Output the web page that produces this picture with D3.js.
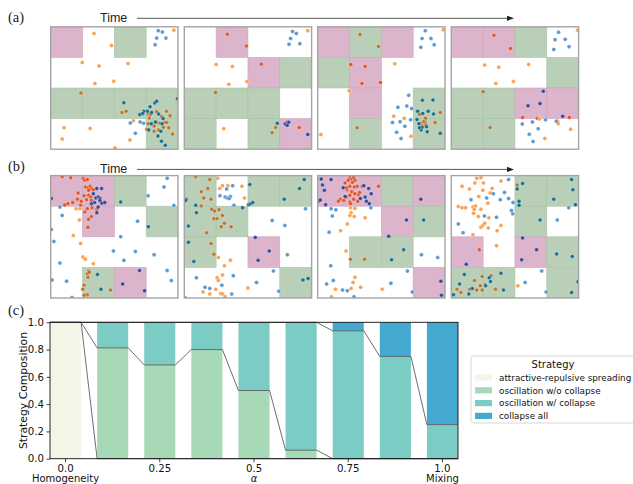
<!DOCTYPE html>
<html>
<head>
<meta charset="utf-8">
<script src="https://cdn.jsdelivr.net/npm/d3@7"></script>
<style>
  body { margin: 0; background: #fff; }
  svg { display: block; }
</style>
</head>
<body>
<svg id="fig" width="633" height="484"></svg>
<script>
// ---------- (c) strategy composition along alpha ----------
const alphaValues = [0, 0.125, 0.25, 0.375, 0.5, 0.625, 0.75, 0.875, 1.0];
const alphaTickIndex = [0, 2, 4, 6, 8];
const alphaTickLabels = ["0.0", "0.25", "0.5", "0.75", "1.0"];
const alphaEndLabels = ["Homogeneity", "", "α", "", "Mixing"];

const strategyNames = ["attractive-repulsive spreading", "oscillation w/o collapse",
                       "oscillation w/ collapse", "collapse all"];
const spreading       = [1, 0,      0,      0,   0,   0,      0,      0,    0];
const withoutCollapse = [0, 0.8125, 0.6875, 0.8, 0.5, 0.0625, 0,      0,    0];
const withCollapse    = [0, 0.1875, 0.3125, 0.2, 0.5, 0.9375, 0.9375, 0.75, 0.25];
const collapseAll     = [0, 0,      0,      0,   0,   0,      0.0625, 0.25, 0.75];
const strategyColors  = ["#f1f6e7", "#a8d9b7", "#7bccc4", "#43a9d0"];

const yTicks = [0, 0.2, 0.4, 0.6, 0.8, 1.0];

// ---------- (a), (b) snapshots: 4x4 patch grids (P = pink, G = green, W = empty) ----------
const gridsA = ["PWGW/WWWW/GGGG/WWWG", "WPWW/WWPG/GGGW/GWGP", "PGPW/GPWW/WPWG/WGWG", "PPGW/WWWG/GGPP/GGWW"];
const gridsB = ["PPGW/WPWG/WWWW/WGPW", "GWGG/GGWW/GWPW/WWWG", "PPGP/WWPG/WGGW/WWWP", "WWGG/WWGW/PWPG/GGWG"];

// agent positions in patch units (x right, y down), orange and blue populations
const a1Orange = [[1.36,0.22],[1.91,0.61],[0.99,1.17],[1.52,1.28],[2.43,1.20],[1.39,1.85],[1.98,1.78],[3.87,0.11],[0.42,3.30],[1.24,3.32],[0.36,3.67],[2.49,3.70],[2.02,3.96],[2.60,3.07],[0.95,2.16],[2.24,2.80],[2.37,2.76],[3.06,2.85],[3.14,2.87],[3.33,2.78],[3.48,2.93],[3.64,2.76],[3.75,2.91],[3.10,2.98],[3.06,3.17],[3.25,3.24],[3.43,3.15],[3.58,3.13],[3.54,3.28],[3.39,3.37],[3.71,3.30],[3.83,3.50],[3.25,3.41],[3.02,3.35],[3.64,3.13],[3.33,3.13]];
const a1Blue = [[3.38,0.13],[3.51,0.17],[3.33,0.37],[3.62,0.37],[3.28,0.59],[2.30,2.48],[3.27,2.49],[3.33,2.43],[2.93,2.76],[3.04,2.76],[3.12,2.61],[2.80,2.87],[2.89,2.83],[3.17,2.80],[3.39,2.85],[3.53,3.00],[3.16,3.17],[3.29,3.11],[3.50,3.17],[3.46,3.41],[3.08,3.37],[3.37,3.57],[3.48,3.74],[3.60,3.87],[2.50,3.14],[2.66,3.48],[2.81,3.11],[2.92,3.15],[3.98,2.35]];

const a2Orange = [[1.35,0.24],[1.95,0.63],[3.88,0.13],[1.00,1.23],[1.51,1.30],[1.40,1.88],[1.97,1.79],[2.42,1.22],[0.98,2.15],[1.24,3.33],[3.61,3.29],[2.87,3.29],[2.76,3.46],[3.22,3.14],[3.25,3.16],[3.20,3.17],[3.24,3.12],[3.27,3.18],[3.22,3.19],[3.18,3.15],[3.23,3.15],[3.26,3.13],[3.21,3.12],[3.19,3.19]];
const a2Blue = [[3.40,0.15],[3.52,0.22],[3.34,0.38],[3.63,0.55],[3.29,0.57],[2.92,3.15],[3.17,3.18],[3.28,3.12],[3.23,3.22],[3.88,3.52]];

const a3Orange = [[1.33,0.25],[1.91,0.64],[1.04,1.23],[1.49,1.30],[1.39,1.85],[1.97,1.82],[0.99,2.09],[2.42,1.21],[0.10,3.52],[2.39,2.92],[2.72,2.99],[2.93,3.58],[1.24,3.30],[3.94,0.10],[3.20,2.86],[3.39,2.99],[3.85,2.80],[3.69,3.13],[3.30,3.15],[3.35,3.18],[3.28,3.22],[3.38,3.12],[3.32,3.24],[3.25,3.20],[3.40,3.20],[3.33,3.10],[3.22,3.15]];
const a3Blue = [[3.38,0.13],[3.28,0.38],[3.56,0.38],[3.66,0.59],[3.24,0.67],[2.86,2.24],[2.52,2.63],[2.80,2.59],[2.95,2.67],[2.59,3.10],[2.35,3.13],[2.74,3.25],[2.92,3.04],[2.48,3.45],[2.62,3.65],[3.29,2.40],[3.62,2.39],[3.14,2.76],[3.30,2.83],[3.47,2.76],[3.64,2.85],[3.12,3.03],[3.25,3.37],[3.44,3.43],[3.85,3.48],[3.18,3.17],[3.28,3.28],[3.42,3.27],[3.20,3.30]];

const a4Orange = [[1.34,0.28],[1.86,0.71],[3.97,0.11],[1.05,1.25],[1.49,1.32],[2.43,1.23],[1.40,1.85],[1.95,1.79],[1.00,2.12],[1.22,3.29],[2.24,2.96],[3.71,2.96],[2.70,2.99],[2.77,3.01],[3.34,3.09],[3.36,3.17],[3.75,3.35],[2.94,3.65]];
const a4Blue = [[3.37,0.18],[3.26,0.42],[3.58,0.41],[3.70,0.65],[3.22,0.74],[2.89,2.11],[2.41,2.58],[2.79,2.51],[3.50,2.92],[2.96,3.04],[2.23,3.18],[2.55,3.11],[2.73,3.33],[2.45,3.51],[2.57,3.75],[3.30,3.09]];

const b1Orange = [[0.36,0.04],[0.63,0.07],[1.02,0.09],[1.07,0.15],[1.15,0.13],[1.09,0.37],[1.17,0.40],[1.24,0.35],[1.28,0.42],[1.19,0.48],[1.34,0.46],[0.86,0.57],[1.05,0.66],[1.19,0.64],[1.26,0.70],[1.13,0.79],[1.28,0.81],[0.54,0.92],[0.44,0.96],[0.96,0.84],[1.15,1.08],[1.30,1.05],[1.07,1.19],[1.45,1.10],[1.19,1.43],[1.28,1.34],[1.17,1.69],[0.94,0.97],[0.69,0.88],[0.84,0.77],[1.19,3.12],[1.15,3.21],[1.17,3.32],[1.05,3.58],[1.01,3.71],[1.15,3.89],[1.05,3.91],[1.88,3.74],[1.21,3.16],[0.80,1.08],[0.92,1.08],[0.90,1.45],[0.71,1.96],[0.94,2.22],[1.01,2.66],[1.09,2.73],[1.34,2.88]];
const b1Blue = [[0.02,0.75],[1.45,0.42],[1.60,0.42],[1.34,0.59],[1.42,0.73],[1.49,0.70],[1.55,0.75],[1.61,0.90],[1.70,0.88],[1.38,0.88],[1.28,0.92],[1.45,1.21],[1.49,1.03],[1.55,0.81],[2.20,0.86],[3.07,1.67],[1.47,3.23],[1.58,3.71],[2.79,3.10],[2.26,3.54],[2.95,3.76],[3.66,0.09],[3.56,0.37],[3.06,0.66],[3.87,0.98],[0.29,1.03],[0.36,1.30],[0.02,1.76],[0.10,2.15],[0.29,2.86],[0.04,3.41],[0.50,3.45],[0.67,3.98],[3.79,3.43],[3.66,3.10],[3.25,2.59],[2.66,2.48],[2.30,2.77],[2.73,1.49],[2.20,2.00],[1.97,2.46]];

const b2Orange = [[0.36,0.04],[0.80,0.13],[0.74,0.42],[0.61,0.73],[0.84,0.77],[0.53,0.99],[0.86,1.10],[0.95,1.16],[1.09,1.12],[1.20,1.30],[1.03,1.41],[0.93,1.41],[1.26,1.56],[1.47,1.67],[1.16,1.67],[0.70,1.87],[0.93,2.57],[0.84,2.22],[0.53,0.53],[1.05,0.09],[1.20,0.33],[1.37,0.33],[1.81,0.35],[1.11,0.42],[1.89,0.73],[1.26,2.95],[1.07,2.68],[1.45,2.77],[1.20,3.25],[1.03,3.34],[1.07,3.43],[0.99,3.71],[1.14,3.85],[1.20,3.87],[1.28,3.96],[0.59,3.80],[2.00,3.67],[0.80,3.87]];
const b2Blue = [[0.06,0.77],[0.04,0.81],[0.36,0.97],[0.38,1.21],[0.13,1.65],[0.13,2.18],[0.30,2.81],[2.06,0.29],[2.02,0.95],[2.08,0.92],[2.15,0.88],[1.83,1.05],[3.77,0.13],[3.62,0.42],[3.14,0.77],[3.73,3.41],[3.89,3.36],[1.52,0.33],[1.12,0.66],[1.28,0.70],[1.35,0.73],[1.45,0.68],[1.41,0.75],[1.33,0.44],[1.56,0.97],[2.76,1.47],[3.16,1.63],[3.81,1.08],[3.24,2.59],[2.80,3.12],[2.27,3.49],[2.97,3.78],[1.54,3.27],[1.49,3.87],[1.18,3.58],[0.65,3.65],[0.38,3.34],[0.80,3.69],[0.02,3.98],[2.67,2.46],[2.32,2.77],[2.23,2.02]];

const b3Orange = [[1.01,0.07],[1.07,0.11],[1.13,0.07],[1.17,0.15],[0.96,0.15],[1.09,0.22],[0.86,0.24],[1.01,0.35],[1.15,0.37],[1.24,0.35],[0.92,0.46],[1.07,0.53],[1.17,0.59],[1.28,0.62],[1.32,0.55],[1.01,0.64],[0.90,0.70],[0.71,0.77],[0.82,0.81],[0.65,0.84],[1.13,0.77],[1.01,0.86],[1.26,0.84],[1.91,0.35],[1.40,0.35],[0.90,0.40],[1.03,0.92],[1.03,2.73],[1.47,2.73],[1.03,1.05],[1.17,1.07],[1.05,1.21],[1.01,1.30],[1.15,1.34],[1.49,1.38],[0.93,1.58],[0.72,1.80],[0.89,2.46],[1.17,3.32],[1.11,3.49],[1.05,3.69],[0.56,3.71],[0.43,3.96],[2.03,3.71],[1.35,3.65]];
const b3Blue = [[0.11,0.11],[0.42,0.13],[0.15,0.31],[0.21,0.48],[0.02,0.84],[0.08,0.80],[0.25,0.95],[0.80,0.40],[0.86,0.68],[1.45,0.33],[1.60,0.42],[1.49,0.70],[1.34,0.75],[1.68,0.59],[1.53,0.84],[1.62,0.92],[3.24,0.77],[2.79,1.45],[2.23,1.98],[3.87,3.45],[3.89,3.91],[3.33,1.45],[2.70,2.42],[2.32,2.75],[0.42,1.08],[0.57,1.12],[0.46,1.32],[0.36,1.85],[1.67,1.05],[0.41,2.95],[3.26,2.59],[3.77,2.68],[2.82,3.12],[2.30,3.52],[2.97,3.80],[0.78,3.74],[0.49,3.43],[0.28,3.54],[0.93,3.76],[1.14,3.96]];

const b4Orange = [[0.80,0.09],[0.93,0.07],[0.74,0.24],[0.34,0.35],[0.57,0.44],[1.01,0.24],[0.99,0.48],[1.56,0.18],[1.22,0.57],[1.28,0.42],[0.86,0.68],[1.15,0.90],[0.22,1.01],[0.34,1.05],[0.45,1.05],[0.68,1.03],[0.72,1.10],[0.76,0.99],[0.70,1.23],[0.93,1.10],[1.18,1.38],[0.93,1.69],[0.99,1.63],[1.05,1.56],[1.16,1.71],[0.68,1.93],[1.44,1.80],[1.56,1.63],[1.42,2.29],[0.85,1.34],[2.09,3.60],[2.07,0.31],[0.73,3.43],[0.97,3.30],[1.06,3.56],[0.18,3.71],[0.58,3.71],[0.80,3.74],[0.91,3.60],[1.25,3.27],[0.97,3.74],[1.39,3.71],[0.30,3.82],[0.88,2.42]];
const b4Blue = [[1.80,0.13],[0.62,0.79],[1.11,0.73],[1.32,0.59],[1.67,0.55],[1.54,0.79],[1.80,0.75],[1.04,1.32],[1.42,1.36],[1.93,1.25],[1.89,1.14],[0.22,1.58],[0.37,1.87],[3.33,1.45],[3.69,1.05],[2.84,3.12],[2.32,3.49],[2.98,3.80],[1.94,0.88],[2.24,0.26],[2.07,0.44],[2.13,0.84],[2.13,0.97],[2.79,1.45],[3.78,0.13],[3.82,0.46],[3.22,0.77],[3.90,0.95],[3.31,2.56],[3.80,2.64],[3.98,3.47],[3.78,3.82],[1.56,3.19],[1.23,3.46],[0.41,3.23],[0.26,3.54],[0.66,3.69],[0.07,3.89],[0.55,3.87],[1.08,3.60],[1.19,3.34],[1.64,3.74],[0.47,2.90],[2.24,2.04],[2.68,2.42],[2.21,2.75]];

const rowA = [[gridsA[0], a1Orange, a1Blue], [gridsA[1], a2Orange, a2Blue], [gridsA[2], a3Orange, a3Blue], [gridsA[3], a4Orange, a4Blue]];
const rowB = [[gridsB[0], b1Orange, b1Blue], [gridsB[1], b2Orange, b2Blue], [gridsB[2], b3Orange, b3Blue], [gridsB[3], b4Orange, b4Blue]];

// ---------- styling ----------
const SANS = "'DejaVu Sans', sans-serif";
const SERIF = "'Liberation Serif', 'DejaVu Serif', serif";
const cellFill = { P: "#dcb4cb", G: "#bacfb7" };
const cellEdge = { P: "#cfa3bd", G: "#a9c2a5" };
const dotFill = {
  o: { W: "#f9a14f", G: "#bb7429", P: "#e2532b" },
  b: { W: "#5799d2", G: "#17708b", P: "#33489a" }
};

const svg = d3.select("#fig");

// ---------- snapshot rows ----------
const panelLefts = [50.7, 184.3, 317.7, 451.3];
const PW = 127.3, PH = 122.4;

function drawPanel(g, left, top, grid, orange, blue, id) {
  const xs = d3.scaleLinear().domain([0, 4]).range([left, left + PW]);
  const ys = d3.scaleLinear().domain([0, 4]).range([top, top + PH]);
  const rows = grid.split("/");
  const cells = [];
  rows.forEach((r, i) => [...r].forEach((c, j) => cells.push({ i, j, c })));

  g.append("clipPath").attr("id", id)
    .append("rect").attr("x", left).attr("y", top).attr("width", PW).attr("height", PH);

  const inner = g.append("g").attr("clip-path", `url(#${id})`);
  inner.selectAll("rect.cell")
    .data(cells.filter(d => d.c !== "W"))
    .join("rect")
    .attr("class", "cell")
    .attr("x", d => xs(d.j)).attr("y", d => ys(d.i))
    .attr("width", xs(1) - xs(0)).attr("height", ys(1) - ys(0))
    .attr("fill", d => cellFill[d.c])
    .attr("stroke", d => cellEdge[d.c]).attr("stroke-width", 0.6);

  const stateAt = (x, y) => rows[Math.min(3, Math.floor(y))][Math.min(3, Math.floor(x))];
  const agents = orange.map(p => ({ x: p[0], y: p[1], s: "o" }))
    .concat(blue.map(p => ({ x: p[0], y: p[1], s: "b" })));
  inner.selectAll("circle")
    .data(agents)
    .join("circle")
    .attr("cx", d => xs(d.x)).attr("cy", d => ys(d.y))
    .attr("r", 2)
    .attr("fill", d => dotFill[d.s][stateAt(d.x, d.y)])
    .attr("stroke", "#fff").attr("stroke-opacity", 0.55).attr("stroke-width", 0.6);

  g.append("rect")
    .attr("x", left).attr("y", top).attr("width", PW).attr("height", PH)
    .attr("fill", "none").attr("stroke", "#a4a4a4").attr("stroke-width", 1.4);
}

function drawRow(label, labelY, timeY, arrowY, top, panels, key) {
  const g = svg.append("g");
  g.append("text").attr("x", 8).attr("y", labelY)
    .attr("font-family", SERIF).attr("font-size", 14.5).attr("fill", "#222").text(label);
  g.append("text").attr("x", 100).attr("y", timeY)
    .attr("font-family", "'Liberation Sans', Arial, sans-serif").attr("font-size", 12.5)
    .attr("fill", "#222").text("Time");
  g.append("line").attr("x1", 137).attr("x2", 507).attr("y1", arrowY).attr("y2", arrowY)
    .attr("stroke", "#555").attr("stroke-width", 1);
  g.append("path")
    .attr("d", `M507,${arrowY - 2.6} L514,${arrowY} L507,${arrowY + 2.6} Z`)
    .attr("fill", "#222");
  panels.forEach((p, k) => drawPanel(g, panelLefts[k], top, p[0], p[1], p[2], `clip-${key}${k}`));
}

drawRow("(a)", 22, 21.6, 18.3, 26.8, rowA, "a");
drawRow("(b)", 171, 172.6, 169.4, 175.6, rowB, "b");

// ---------- (c) stacked bars ----------
const chartL = 50, chartR = 458, chartT = 322.3, chartB = 458.7;
const keys = ["spreading", "withoutCollapse", "withCollapse", "collapseAll"];
const shareLists = [spreading, withoutCollapse, withCollapse, collapseAll];
const table = alphaValues.map((a, i) => {
  const row = { idx: i, alpha: a };
  keys.forEach((k, j) => { row[k] = shareLists[j][i]; });
  return row;
});

const x = d3.scaleBand().domain(d3.range(alphaValues.length))
  .range([chartL, chartR]).paddingInner(0.34).paddingOuter(0);
const y = d3.scaleLinear().domain([0, 1]).range([chartB, chartT]);
const bw = x.bandwidth();

const gc = svg.append("g");
gc.append("text").attr("x", 8).attr("y", 315)
  .attr("font-family", SERIF).attr("font-size", 14.5).attr("fill", "#222").text("(c)");

const series = d3.stack().keys(keys)(table);
gc.append("g").selectAll("g")
  .data(series)
  .join("g")
  .attr("fill", (d, i) => strategyColors[i])
  .selectAll("rect")
  .data(d => d)
  .join("rect")
  .attr("x", d => x(d.data.idx))
  .attr("y", d => y(d[1]))
  .attr("width", bw)
  .attr("height", d => Math.max(0, y(d[0]) - y(d[1])));

// cumulative boundaries joined between neighbouring bars
const line = d3.line().x(d => d[0]).y(d => d[1]);
[0, 1, 2].forEach(k => {
  const pts = table.flatMap(r => {
    const cum = d3.sum(keys.slice(0, k + 1), kk => r[kk]);
    return [[x(r.idx), y(cum)], [x(r.idx) + bw, y(cum)]];
  });
  gc.append("path").attr("d", line(pts))
    .attr("fill", "none").attr("stroke", "#5d5d5d").attr("stroke-width", 0.9);
});

// axes
const yAxis = d3.axisLeft(y).tickValues(yTicks).tickFormat(d3.format(".1f"))
  .tickSize(3.5).tickPadding(2.5);
const ya = gc.append("g").attr("transform", `translate(${chartL},0)`).call(yAxis);
ya.select(".domain").remove();

const xAxis = d3.axisBottom(x).tickValues(alphaTickIndex)
  .tickFormat((d, i) => alphaTickLabels[i]).tickSize(3.5).tickPadding(2.5);
const xa = gc.append("g").attr("transform", `translate(0,${chartB})`).call(xAxis);
xa.select(".domain").remove();

[ya, xa].forEach(a => {
  a.selectAll("text").attr("font-family", SANS).attr("font-size", 10.2).attr("fill", "#111");
  a.selectAll("line").attr("stroke", "#111").attr("stroke-width", 0.8);
});

gc.append("g").selectAll("text")
  .data(alphaTickIndex.map((d, i) => ({ d, t: alphaEndLabels[i] })).filter(o => o.t))
  .join("text")
  .attr("x", o => x(o.d) + bw / 2).attr("y", 482)
  .attr("text-anchor", "middle")
  .attr("font-family", SANS).attr("font-size", 10).attr("fill", "#111")
  .attr("font-style", o => o.t === "α" ? "italic" : "normal")
  .text(o => o.t);

gc.append("rect").attr("x", chartL).attr("y", chartT)
  .attr("width", chartR - chartL).attr("height", chartB - chartT)
  .attr("fill", "none").attr("stroke", "#111").attr("stroke-width", 0.9);

gc.append("text")
  .attr("transform", `translate(26.5,${(chartT + chartB) / 2}) rotate(-90)`)
  .attr("text-anchor", "middle")
  .attr("font-family", SANS).attr("font-size", 10.8).attr("fill", "#111")
  .text("Strategy Composition");

// legend
const lg = gc.append("g").attr("transform", "translate(471,356)");
lg.append("rect").attr("x", 0).attr("y", 0).attr("width", 170).attr("height", 67)
  .attr("rx", 2.5).attr("fill", "#fff").attr("stroke", "#d4d4d4").attr("stroke-width", 0.9);
lg.append("text").attr("x", 82).attr("y", 11.8).attr("text-anchor", "middle")
  .attr("font-family", SANS).attr("font-size", 10).attr("fill", "#111").text("Strategy");
const items = lg.selectAll("g.item").data(strategyNames).join("g")
  .attr("class", "item")
  .attr("transform", (d, i) => `translate(0,${21.6 + i * 12.8})`);
items.append("rect").attr("x", 4).attr("y", -3.2).attr("width", 17).attr("height", 6.2)
  .attr("fill", (d, i) => strategyColors[i]);
items.append("text").attr("x", 28).attr("y", 3.2)
  .attr("font-family", SANS).attr("font-size", 8.8).attr("fill", "#111")
  .text(d => d);
</script>
</body>
</html>
